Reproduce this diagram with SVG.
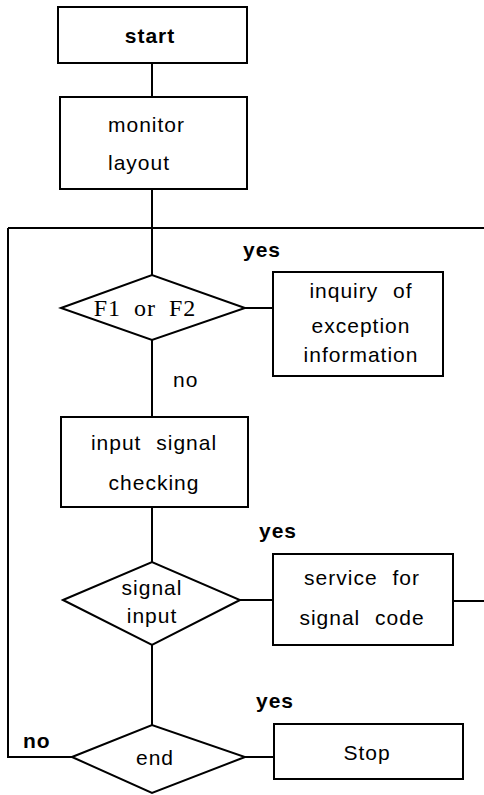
<svg xmlns="http://www.w3.org/2000/svg" width="484" height="795" viewBox="0 0 484 795">
<style>
.s{fill:#fff;stroke:#000;stroke-width:2}
.c{fill:none;stroke:#000;stroke-width:2}
text{font-family:"Liberation Sans",Arial,sans-serif;font-size:21px;fill:#000;letter-spacing:1px;word-spacing:8px}
.m{text-anchor:middle}
.b{font-weight:bold}
.f{font-family:"Liberation Serif","Times New Roman",serif;font-size:24px;word-spacing:6px}
</style>
<rect width="484" height="795" fill="#fff"/>
<g id="connectors">
<path class="c" d="M152 63V97M152 189V275M8 228H484M8 228V757H72M152 340V417M245 308H273M152 507V562M240 600H273M453 601H484M152 645V725M245 757H274"/>
</g>
<g id="start"><rect class="s" x="58" y="7" width="189" height="56"/><text class="m b" x="150" y="43">start</text></g>
<g id="monitor"><rect class="s" x="60" y="97" width="187" height="92"/><text x="108" y="132">monitor</text><text x="108" y="170">layout</text></g>
<g id="f1f2"><polygon class="s" points="61,308 152,275 245,308 152,340"/><text class="m f" x="145" y="316">F1 or F2</text></g>
<g id="inquiry"><rect class="s" x="273" y="272" width="170" height="104"/><text class="m" x="361" y="298">inquiry of</text><text class="m" x="361" y="333">exception</text><text class="m" x="361" y="362">information</text></g>
<g id="checking"><rect class="s" x="61" y="417" width="187" height="90"/><text class="m" x="154" y="450">input signal</text><text class="m" x="154" y="490">checking</text></g>
<g id="signal"><polygon class="s" points="63,600 152,562 240,600 152,645"/><text class="m" x="152" y="595">signal</text><text class="m" x="152" y="623">input</text></g>
<g id="service"><rect class="s" x="273" y="554" width="180" height="91"/><text class="m" x="362" y="585">service for</text><text class="m" x="362" y="625">signal code</text></g>
<g id="end"><polygon class="s" points="72,757 152,725 245,757 152,793"/><text class="m" x="155" y="765">end</text></g>
<g id="stop"><rect class="s" x="274" y="724" width="189" height="55"/><text class="m" x="367" y="760">Stop</text></g>
<g id="labels">
<text class="b" x="243" y="257">yes</text>
<text x="173" y="387">no</text>
<text class="b" x="259" y="538">yes</text>
<text class="b" x="256" y="708">yes</text>
<text class="b" x="23" y="748">no</text>
</g>
</svg>
